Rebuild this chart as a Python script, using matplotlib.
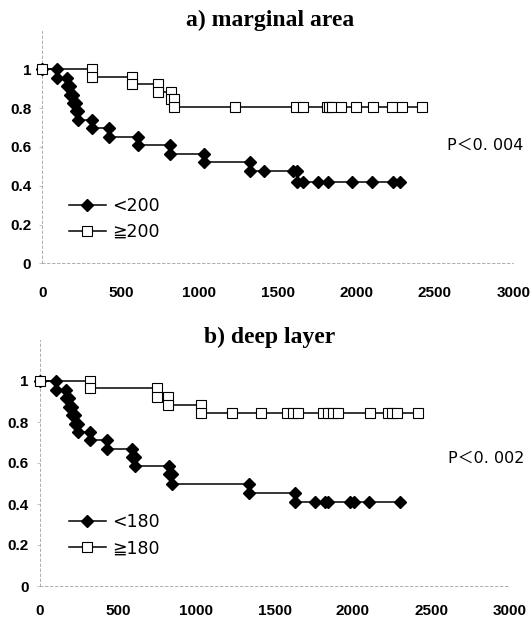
import matplotlib
matplotlib.use("Agg")
import matplotlib.pyplot as plt

# a) marginal area -- Kaplan-Meier steps (corners + censored points)
a_low_x = [0, 96, 96, 160, 160, 177, 177, 195, 195, 212, 212, 229, 229,
           315, 315, 428, 428, 612, 612, 813, 813, 1027, 1027, 1325, 1325,
           1412, 1600, 1625, 1625, 1658, 1754, 1819, 1974, 2099, 2233, 2276]
a_low_y = [1, 1, 0.957, 0.957, 0.913, 0.913, 0.870, 0.870, 0.826, 0.826, 0.783, 0.783, 0.739,
           0.739, 0.696, 0.696, 0.652, 0.652, 0.609, 0.609, 0.565, 0.565, 0.522, 0.522, 0.478,
           0.478, 0.478, 0.478, 0.42, 0.42, 0.42, 0.42, 0.42, 0.42, 0.42, 0.42]
a_high_x = [0, 315, 315, 573, 573, 739, 739, 820, 820, 841, 841,
            1227, 1614, 1658, 1811, 1828, 1843, 1903, 1998, 2108, 2225, 2289, 2416]
a_high_y = [1, 1, 0.962, 0.962, 0.923, 0.923, 0.885, 0.885, 0.846, 0.846, 0.808,
            0.808, 0.808, 0.808, 0.808, 0.808, 0.808, 0.808, 0.808, 0.808, 0.808, 0.808, 0.808]

# b) deep layer
b_low_x = [0, 100, 100, 164, 164, 183, 183, 202, 202, 222, 222, 241, 241,
           319, 319, 426, 426, 590, 590, 605, 605, 822, 822, 845, 845, 1335, 1335,
           1630, 1630, 1757, 1821, 1843, 1984, 2006, 2103, 2298]
b_low_y = [1, 1, 0.956, 0.956, 0.915, 0.915, 0.874, 0.874, 0.833, 0.833, 0.792, 0.792, 0.75,
           0.75, 0.71, 0.71, 0.668, 0.668, 0.627, 0.627, 0.585, 0.585, 0.544, 0.544, 0.50, 0.50, 0.455,
           0.455, 0.41, 0.41, 0.41, 0.41, 0.41, 0.41, 0.41, 0.41]
b_high_x = [0, 319, 319, 745, 745, 820, 820, 1027, 1027,
            1229, 1410, 1580, 1619, 1651, 1810, 1842, 1870, 1906, 2109, 2222, 2247, 2279, 2417]
b_high_y = [1, 1, 0.964, 0.964, 0.923, 0.923, 0.883, 0.883, 0.845,
            0.845, 0.845, 0.845, 0.845, 0.845, 0.845, 0.845, 0.845, 0.845, 0.845, 0.845, 0.845, 0.845, 0.845]

x_ticks = [0, 500, 1000, 1500, 2000, 2500, 3000]
y_ticks = [0, 0.2, 0.4, 0.6, 0.8, 1]
y_ticklabels = ["0", "0.2", "0.4", "0.6", "0.8", "1"]

panels = [
    dict(title="a) marginal area", low=(a_low_x, a_low_y), high=(a_high_x, a_high_y),
         labels=("<200", "≧200"), p="P＜0. 004",
         rect=[42.3 / 531, 1 - 263.3 / 620, 471 / 531, 232.8 / 620], title_y=1 - 26 / 620,
         leg=(0.057, 0.285), ptxt=(0.859, 0.508), xpad=16),
    dict(title="b) deep layer", low=(b_low_x, b_low_y), high=(b_high_x, b_high_y),
         labels=("<180", "≧180"), p="P＜0. 002",
         rect=[40 / 531, 1 - 586 / 620, 469.5 / 531, 246 / 620], title_y=1 - 343 / 620,
         leg=(0.062, 0.295), ptxt=(0.870, 0.518), xpad=13),
]

fig = plt.figure(figsize=(5.31, 6.2), dpi=100)
txt_fam = ["DejaVu Sans", "Noto Sans CJK JP"]
tick_font = dict(family="Liberation Sans", weight="bold", size=11)

for pn in panels:
    ax = fig.add_axes(pn["rect"])
    l1, = ax.plot(*pn["low"], color="black", lw=1.1, marker="D", ms=5.8,
                  mfc="black", mec="black", clip_on=False, zorder=3)
    l2, = ax.plot(*pn["high"], color="black", lw=1.1, marker="s", ms=6.5,
                  mfc="white", mec="black", mew=0.8, clip_on=False, zorder=4)
    ax.set_xlim(0, 3000)
    ax.set_ylim(0, 1.2)
    ax.set_xticks(x_ticks)
    ax.set_xticklabels([str(t) for t in x_ticks], fontdict=tick_font)
    ax.set_yticks(y_ticks)
    ax.set_yticklabels(y_ticklabels, fontdict=tick_font)
    ax.tick_params(axis="x", length=0, pad=pn["xpad"])
    ax.tick_params(axis="y", length=2, width=0.5, color="#aaaaaa", pad=6)
    for s in ["top", "right"]:
        ax.spines[s].set_visible(False)
    for s in ["left", "bottom"]:
        ax.spines[s].set_color("#a0a0a0")
        ax.spines[s].set_linewidth(0.6)
        ax.spines[s].set_linestyle((0, (3, 3)))
    ax.legend([l1, l2], list(pn["labels"]), loc="upper left", bbox_to_anchor=pn["leg"],
              frameon=False, numpoints=1, handlelength=2.1, handletextpad=0.4,
              labelspacing=0.45, borderpad=0, borderaxespad=0,
              prop=dict(family=txt_fam, size=12.5))
    ax.text(pn["ptxt"][0], pn["ptxt"][1], pn["p"], transform=ax.transAxes,
            ha="left", va="center", fontsize=11.5, family=txt_fam)
    fig.text(0.508, pn["title_y"], pn["title"], ha="center", va="baseline",
             fontsize=17, fontweight="bold", family="Liberation Serif")

fig.savefig("out.png", dpi=100)
